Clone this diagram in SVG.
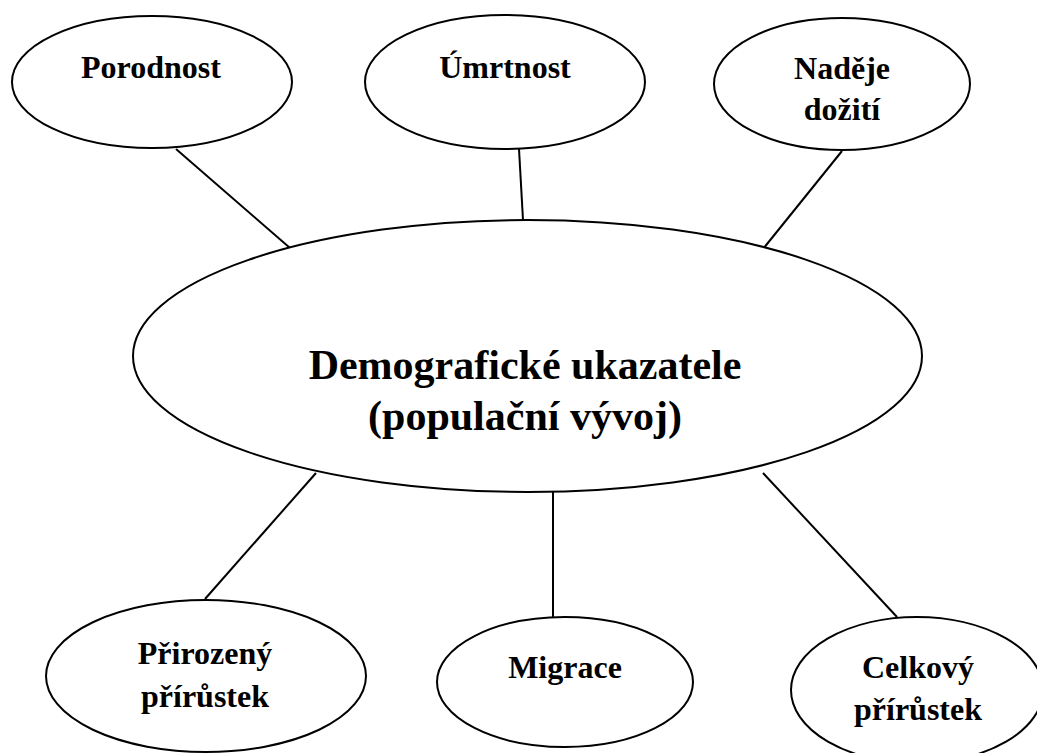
<svg xmlns="http://www.w3.org/2000/svg" width="1037" height="753" viewBox="0 0 1037 753">
<style>
.node ellipse{fill:#fff;stroke:#000;stroke-width:2}
.conn line{stroke:#000;stroke-width:2}
text{font-family:"Liberation Serif","Times New Roman",serif;font-weight:bold;fill:#000;text-anchor:middle}
.s{font-size:32px}
.b{font-size:42px}
</style>
<rect width="1037" height="753" fill="#fff"/>
<g id="connectors" class="conn">
<line x1="176" y1="149" x2="290" y2="248"/>
<line x1="519" y1="149" x2="523" y2="220"/>
<line x1="842" y1="151" x2="763" y2="249"/>
<line x1="316" y1="473" x2="205" y2="599"/>
<line x1="553" y1="492" x2="553" y2="618"/>
<line x1="763" y1="473" x2="897" y2="617"/>
</g>
<g id="main" class="node">
<ellipse cx="527.5" cy="356" rx="394.5" ry="136"/>
<text class="b" x="525" y="379">Demografické ukazatele</text>
<text class="b" x="525" y="430">(populační vývoj)</text>
</g>
<g id="porodnost" class="node">
<ellipse cx="152" cy="82" rx="140" ry="66"/>
<text class="s" x="151" y="78">Porodnost</text>
</g>
<g id="umrtnost" class="node">
<ellipse cx="505" cy="82" rx="140" ry="67"/>
<text class="s" x="505" y="78">Úmrtnost</text>
</g>
<g id="nadeje" class="node">
<ellipse cx="842" cy="84" rx="128" ry="66"/>
<text class="s" x="842" y="79">Naděje</text>
<text class="s" x="842" y="120">dožití</text>
</g>
<g id="prirozeny" class="node">
<ellipse cx="206" cy="676" rx="160" ry="76"/>
<text class="s" x="205" y="664">Přirozený</text>
<text class="s" x="205" y="707">přírůstek</text>
</g>
<g id="migrace" class="node">
<ellipse cx="565" cy="682" rx="128" ry="65"/>
<text class="s" x="565" y="678">Migrace</text>
</g>
<g id="celkovy" class="node">
<ellipse cx="917" cy="690" rx="126" ry="73"/>
<text class="s" x="918" y="678">Celkový</text>
<text class="s" x="918" y="720">přírůstek</text>
</g>
</svg>
